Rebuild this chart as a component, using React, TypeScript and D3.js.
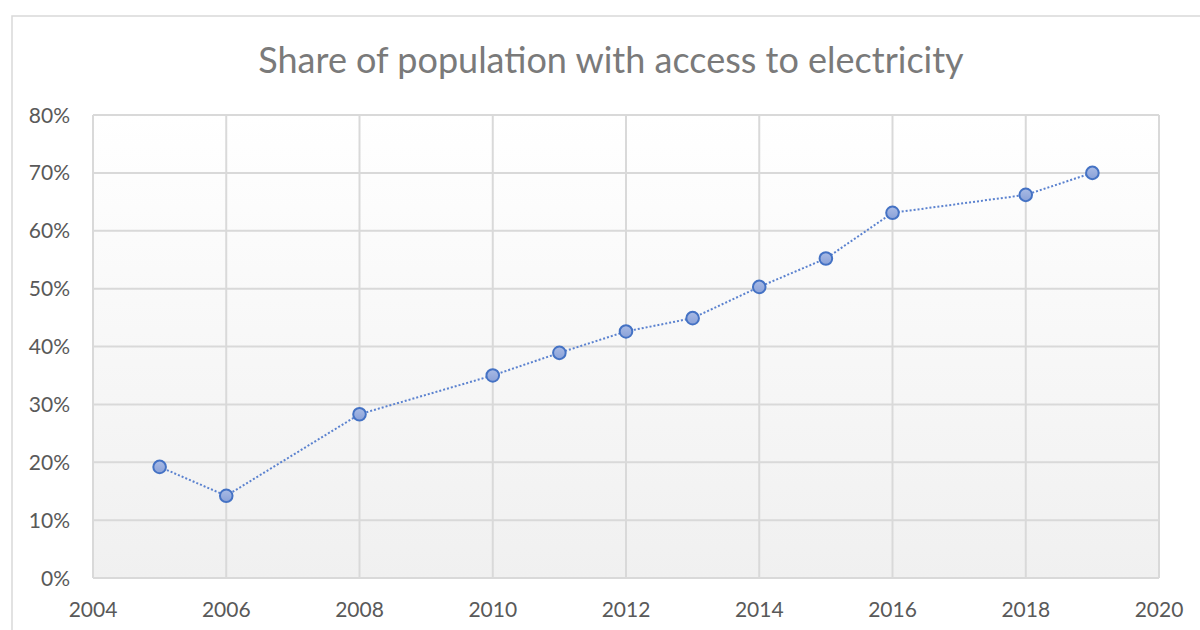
import React from "react";
import * as d3 from "d3";

const years: number[] = [2005, 2006, 2008, 2010, 2011, 2012, 2013, 2014, 2015, 2016, 2018, 2019];
const shares: number[] = [19.2, 14.2, 28.3, 35.0, 38.9, 42.6, 44.9, 50.3, 55.2, 63.1, 66.2, 70.0];
const xTicks: number[] = [2004, 2006, 2008, 2010, 2012, 2014, 2016, 2018, 2020];
const yTicks: number[] = [0, 10, 20, 30, 40, 50, 60, 70, 80];
const title = "Share of population with access to electricity";

const W = 1200;
const H = 630;
const plot = { left: 93, top: 115, right: 1159, bottom: 578 };
const FONT = "Lato, 'Open Sans', sans-serif";

export default function App() {
  const x = d3.scaleLinear().domain([2004, 2020]).range([plot.left, plot.right]);
  const y = d3.scaleLinear().domain([0, 80]).range([plot.bottom, plot.top]);
  const data = years.map((yr, i) => ({ yr, v: shares[i] }));
  const line = d3
    .line<{ yr: number; v: number }>()
    .x((d) => x(d.yr))
    .y((d) => y(d.v));

  return (
    <svg
      width={W}
      height={H}
      style={{ position: "absolute", left: 0, top: 0, display: "block", background: "#ffffff" }}
    >
      <defs>
        <linearGradient id="plotBg" x1="0" y1="0" x2="0" y2="1">
          <stop offset="0" stopColor="#ffffff" />
          <stop offset="1" stopColor="#f0f0f0" />
        </linearGradient>
        <linearGradient id="markerFill" x1="0" y1="0" x2="0" y2="1">
          <stop offset="0" stopColor="#a9bbe5" />
          <stop offset="1" stopColor="#8aa1d8" />
        </linearGradient>
      </defs>
      {/* outer chart frame */}
      <rect x={12} y={16} width={1200} height={640} fill="#ffffff" stroke="#d9d9d9" strokeWidth={1.5} />
      {/* title */}
      <text
        x={611}
        y={73}
        textAnchor="middle"
        fontFamily={FONT}
        fontSize={36}
        fill="#7a7a7a"
      >
        {title}
      </text>
      {/* plot background */}
      <rect
        x={plot.left}
        y={plot.top}
        width={plot.right - plot.left}
        height={plot.bottom - plot.top}
        fill="url(#plotBg)"
      />
      {/* gridlines */}
      {yTicks.map((t) => (
        <line
          key={"gy" + t}
          x1={plot.left}
          x2={plot.right}
          y1={y(t)}
          y2={y(t)}
          stroke="#d9d9d9"
          strokeWidth={2}
        />
      ))}
      {xTicks.map((t) => (
        <line
          key={"gx" + t}
          x1={x(t)}
          x2={x(t)}
          y1={plot.top}
          y2={plot.bottom}
          stroke="#d9d9d9"
          strokeWidth={2}
        />
      ))}
      {/* y labels */}
      {yTicks.map((t) => (
        <text
          key={"ly" + t}
          x={70}
          y={y(t)}
          dy="0.36em"
          textAnchor="end"
          fontFamily={FONT}
          fontSize={21}
          fill="#595959"
        >
          {t + "%"}
        </text>
      ))}
      {/* x labels */}
      {xTicks.map((t) => (
        <text
          key={"lx" + t}
          x={x(t)}
          y={617}
          textAnchor="middle"
          fontFamily={FONT}
          fontSize={21}
          fill="#595959"
        >
          {String(t)}
        </text>
      ))}
      {/* series line */}
      <path
        d={line(data) || ""}
        fill="none"
        stroke="#5b82cf"
        strokeWidth={2}
        strokeDasharray="2,2"
      />
      {/* markers */}
      {data.map((d) => (
        <circle
          key={"m" + d.yr}
          cx={x(d.yr)}
          cy={y(d.v)}
          r={6.3}
          fill="url(#markerFill)"
          stroke="#4472c4"
          strokeWidth={2}
        />
      ))}
    </svg>
  );
}
